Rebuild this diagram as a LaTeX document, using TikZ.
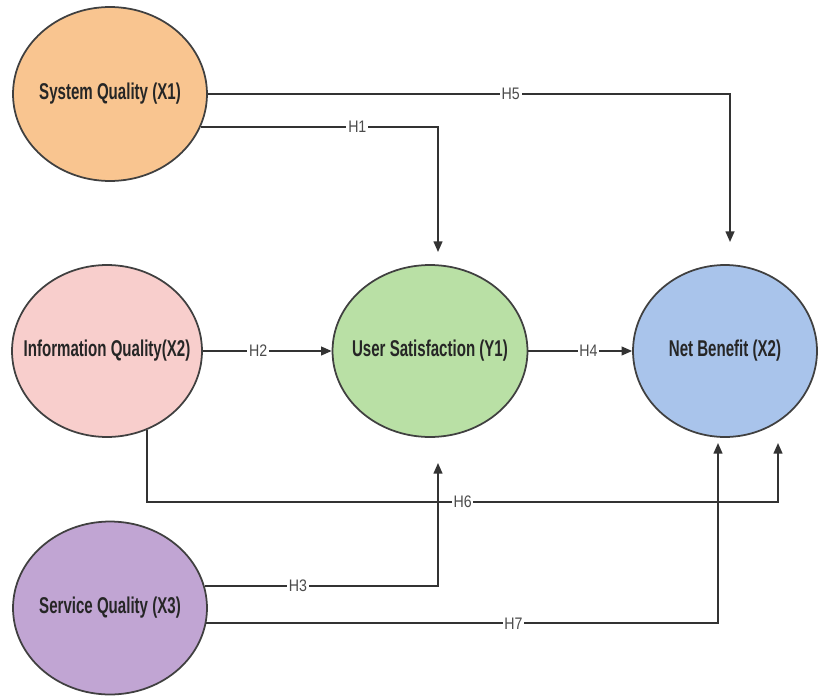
\documentclass[tikz,border=0pt]{standalone}
\usepackage{fontspec}
\setmainfont{Liberation Sans}
\newfontfamily\constructfont[FakeStretch=0.66]{Liberation Sans}
\newfontfamily\hypfont[FakeStretch=0.85]{Liberation Sans}
\usetikzlibrary{shapes.geometric,arrows.meta}
\definecolor{sysq}{HTML}{F9C590}
\definecolor{infoq}{HTML}{F8CECC}
\definecolor{usat}{HTML}{B9E0A5}
\definecolor{netb}{HTML}{A9C4EB}
\definecolor{servq}{HTML}{C1A5D3}
\begin{document}
\begin{tikzpicture}[x=0.02cm,y=-0.02cm,
  construct/.style={ellipse,draw=black!75,line width=1pt,inner sep=0pt,
    label={[font=\constructfont\bfseries\fontsize{13}{15}\selectfont,text=black!85]center:#1}},
  hyp/.style={fill=white,inner sep=1pt,text=black!70,font=\hypfont\fontsize{9.5}{11}\selectfont},
  link/.style={draw=black!80,line width=0.9pt,-{Triangle[length=6pt,width=5pt]}}]
\useasboundingbox (0,0) rectangle (818,696);

\node [construct={System Quality (X1)},fill=sysq,minimum width=3.88cm,minimum height=3.48cm] (sq) at (110,94) {};
\node [construct={Information Quality(X2)},fill=infoq,minimum width=3.8cm,minimum height=3.44cm] (iq) at (107,351) {};
\node [construct={User Satisfaction (Y1)},fill=usat,minimum width=3.9cm,minimum height=3.44cm] (us) at (430,351) {};
\node [construct={Net Benefit (X2)},fill=netb,minimum width=3.68cm,minimum height=3.44cm] (nb) at (725,351) {};
\node [construct={Service Quality (X3)},fill=servq,minimum width=3.88cm,minimum height=3.46cm] (svq) at (110,608) {};

\coordinate (h5end) at (730,242);
\coordinate (h1end) at (438,252);
\coordinate (h3end) at (438,463);
\coordinate (h6low) at (778,502);
\coordinate (h6end) at (778,443);
\coordinate (h7end) at (718,443);

\draw [link] (sq.east) -| (h5end) node [hyp,pos=0.29] {H5};
\draw [link] (sq.-20) -| (h1end) node [hyp,pos=0.33] {H1};
\draw [link] (iq.east) -- (us.west) node [hyp,pos=0.43] {H2};
\draw [link] (us.east) -- (nb.west) node [hyp,pos=0.58] {H4};
\draw [link] (iq.-63) |- (h6low) node [hyp,pos=0.75] {H6} -- (h6end);
\draw [link] (svq.13) -| (h3end) node [hyp,pos=0.2] {H3};
\draw [link] (svq.-9) -| (h7end) node [hyp,pos=0.3] {H7};

\end{tikzpicture}
\end{document}
